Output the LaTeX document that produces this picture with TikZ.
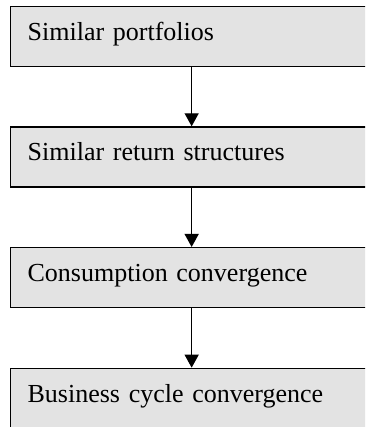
\documentclass[tikz,border=0pt]{standalone}
\usepackage{fontspec}
\setmainfont{Liberation Serif}
\usetikzlibrary{arrows.meta}
\begin{document}
\begin{tikzpicture}[x=1pt,y=1pt,
  stagebox/.style={draw=black, line width=1.3pt, fill=black!11, anchor=north west,
    minimum width=363pt, inner xsep=17.5pt, inner ysep=0pt,
    text height=34pt, text depth=26pt, align=left, text width=328pt,
    font=\fontsize{26}{30}\selectfont},
  flow/.style={line width=1.3pt, -{Triangle[length=13pt,width=14pt]}}]
\useasboundingbox (0,0) rectangle (365,427);
\clip (0,0) rectangle (365,427);
\node[stagebox] (a) at (9.5,421) {Similar portfolios};
\node[stagebox] (b) at (9.5,300.7) {Similar return structures};
\node[stagebox] (c) at (9.5,180) {Consumption convergence};
\node[stagebox] (d) at (9.5,59.3) {Business cycle convergence};
\draw[flow] (a) -- (b);
\draw[flow] (b) -- (c);
\draw[flow] (c) -- (d);
\end{tikzpicture}
\end{document}
